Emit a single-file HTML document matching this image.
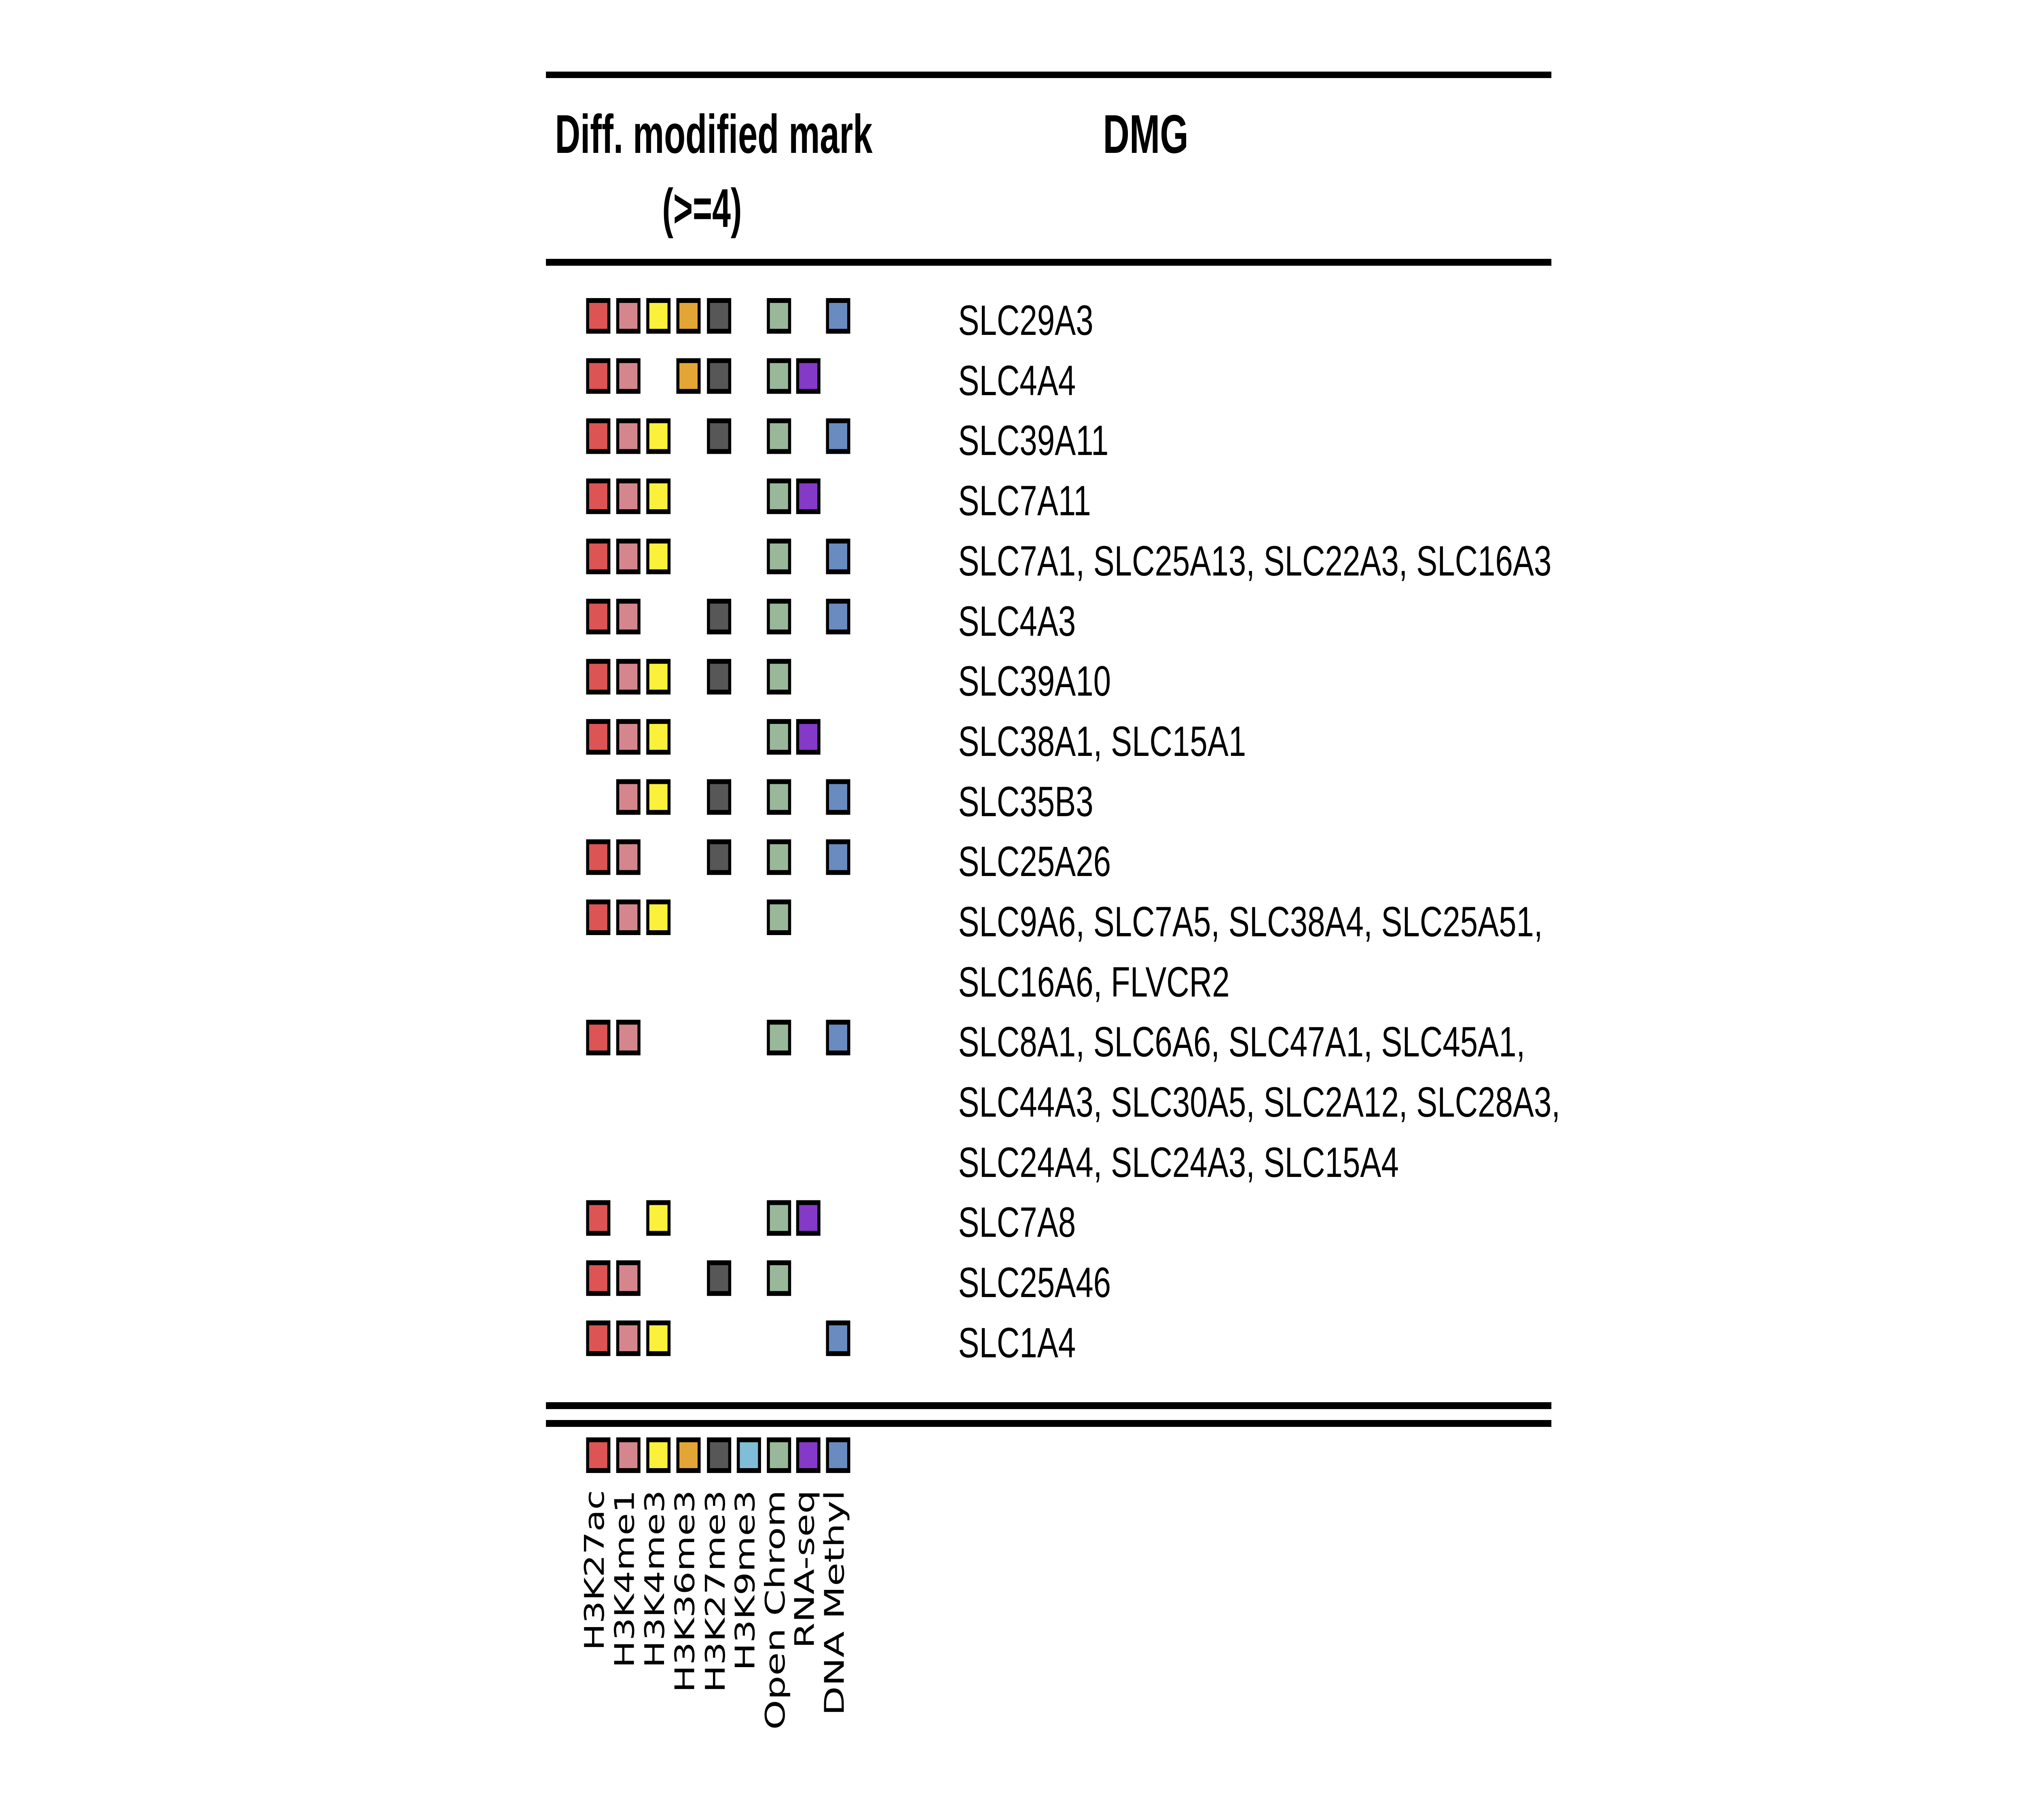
<!DOCTYPE html>
<html><head><meta charset="utf-8"><style>
html,body{margin:0;padding:0;background:#fff;overflow:hidden;width:100vw;height:100vh;}
svg{display:block;width:100vw;height:100vh;}
</style></head><body>
<svg xmlns="http://www.w3.org/2000/svg" viewBox="0 0 8000 4500" preserveAspectRatio="none">
<rect width="8000" height="4500" fill="#fff"/>
<g fill="#000">
<rect x="2160" y="177" width="3978" height="16"/>
<rect x="2160" y="640" width="3978" height="17"/>
<rect x="2160" y="3467" width="3978" height="17"/>
<rect x="2160" y="3511" width="3978" height="17"/>
</g>
<g font-family="Liberation Sans, sans-serif" font-weight="bold" font-size="135" fill="#000">
<text x="2196" y="378" textLength="1256" lengthAdjust="spacingAndGlyphs">Diff. modified mark</text>
<text x="2620" y="561" textLength="315" lengthAdjust="spacingAndGlyphs">(&gt;=4)</text>
<text x="4364" y="378" textLength="338" lengthAdjust="spacingAndGlyphs">DMG</text>
</g>
<g id="sq" stroke="#000" stroke-width="12">
</g>
<script>
(function(){
var xs=[2319,2438,2557,2676,2797,2915,3034,3150,3268];
var cols=["#DC5454","#D4868C","#FCF13A","#E3A535","#575757","#80BDD6","#99B89A","#8539C8","#6A8BC0"];
var rows={0:[0,1,2,3,4,6,8],1:[0,1,3,4,6,7],2:[0,1,2,4,6,8],3:[0,1,2,6,7],4:[0,1,2,6,8],5:[0,1,4,6,8],6:[0,1,2,4,6],7:[0,1,2,6,7],8:[1,2,4,6,8],9:[0,1,4,6,8],10:[0,1,2,6],12:[0,1,6,8],15:[0,2,6,7],16:[0,1,4,6],17:[0,1,2,8]};
var g=document.getElementById('sq');var ns="http://www.w3.org/2000/svg";
function sq(x,y,c){var r=document.createElementNS(ns,'rect');r.setAttribute('x',x+6);r.setAttribute('y',y+6);r.setAttribute('width',84);r.setAttribute('height',76);r.setAttribute('fill',c);g.appendChild(r);}
for(var k in rows){var cy=828+k*148.7-47;rows[k].forEach(function(i){sq(xs[i],cy-44,cols[i]);});}
for(var i=0;i<9;i++)sq(xs[i],3554,cols[i]);
})();
</script>
<g font-family="Liberation Sans, Arial, sans-serif" font-size="105" fill="#000" transform="translate(3791,0) scale(1.19,1)">
<text x="0" y="828">SLC29A3</text>
<text x="0" y="977">SLC4A4</text>
<text x="0" y="1125">SLC39A11</text>
<text x="0" y="1274">SLC7A11</text>
<text x="0" y="1423">SLC7A1, SLC25A13, SLC22A3, SLC16A3</text>
<text x="0" y="1572">SLC4A3</text>
<text x="0" y="1720">SLC39A10</text>
<text x="0" y="1869">SLC38A1, SLC15A1</text>
<text x="0" y="2018">SLC35B3</text>
<text x="0" y="2166">SLC25A26</text>
<text x="0" y="2315">SLC9A6, SLC7A5, SLC38A4, SLC25A51,</text>
<text x="0" y="2464">SLC16A6, FLVCR2</text>
<text x="0" y="2612">SLC8A1, SLC6A6, SLC47A1, SLC45A1,</text>
<text x="0" y="2761">SLC44A3, SLC30A5, SLC2A12, SLC28A3,</text>
<text x="0" y="2910">SLC24A4, SLC24A3, SLC15A4</text>
<text x="0" y="3058">SLC7A8</text>
<text x="0" y="3207">SLC25A46</text>
<text x="0" y="3356">SLC1A4</text>
</g>
<g font-family="DejaVu Sans, sans-serif" font-size="107" fill="#000" text-anchor="end">
<text transform="translate(2389,3684) rotate(-90)" textLength="397" lengthAdjust="spacingAndGlyphs">H3K27ac</text>
<text transform="translate(2508,3684) rotate(-90)" textLength="440" lengthAdjust="spacingAndGlyphs">H3K4me1</text>
<text transform="translate(2627,3684) rotate(-90)" textLength="440" lengthAdjust="spacingAndGlyphs">H3K4me3</text>
<text transform="translate(2746,3684) rotate(-90)" textLength="501" lengthAdjust="spacingAndGlyphs">H3K36me3</text>
<text transform="translate(2867,3684) rotate(-90)" textLength="501" lengthAdjust="spacingAndGlyphs">H3K27me3</text>
<text transform="translate(2985,3684) rotate(-90)" textLength="447" lengthAdjust="spacingAndGlyphs">H3K9me3</text>
<text transform="translate(3104,3684) rotate(-90)" textLength="593" lengthAdjust="spacingAndGlyphs">Open Chrom</text>
<text transform="translate(3220,3684) rotate(-90)" textLength="392" lengthAdjust="spacingAndGlyphs">RNA-seq</text>
<text transform="translate(3338,3684) rotate(-90)" textLength="558" lengthAdjust="spacingAndGlyphs">DNA Methyl</text>
</g>
</svg>
</body></html>
